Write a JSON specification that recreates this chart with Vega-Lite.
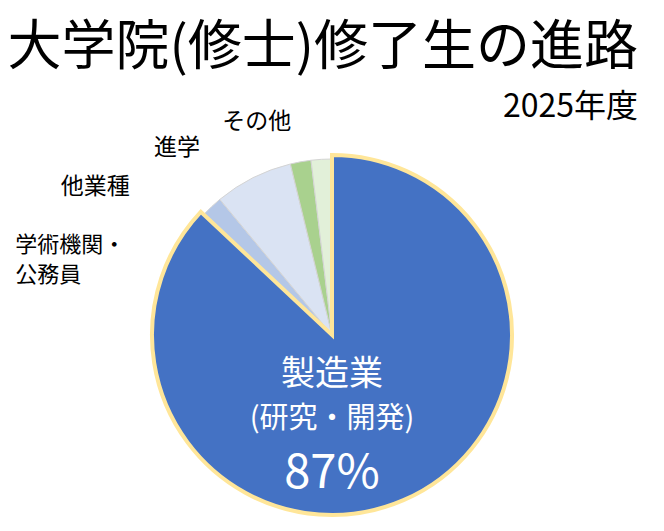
{
  "$schema": "https://vega.github.io/schema/vega-lite/v6.json",
  "width": 664,
  "height": 392,
  "autosize": "none",
  "padding": {"top": 139, "left": 0, "right": 0, "bottom": 0},
  "background": "white",
  "title": {
    "text": "大学院(修士)修了生の進路",
    "subtitle": "2025年度",
    "anchor": "end",
    "dx": -26,
    "offset": -12,
    "font": "Noto Sans CJK JP",
    "fontSize": 54,
    "fontWeight": "normal",
    "color": "black",
    "subtitleFont": "Noto Sans CJK JP",
    "subtitleFontSize": 32,
    "subtitleColor": "black",
    "subtitlePadding": 16
  },
  "data": {
    "values": [
      {"rank": 1, "name": "製造業", "detail": "(研究・開発)", "share": 0.87},
      {"rank": 2, "name": "学術機関・\n公務員", "detail": "", "share": 0.02},
      {"rank": 3, "name": "他業種", "detail": "", "share": 0.072},
      {"rank": 4, "name": "進学", "detail": "", "share": 0.019},
      {"rank": 5, "name": "その他", "detail": "", "share": 0.019}
    ]
  },
  "layer": [
    {
      "mark": {"type": "arc", "radius": 176, "stroke": "#d4d4d4", "strokeWidth": 1},
      "encoding": {
        "theta": {"field": "share", "type": "quantitative", "stack": true},
        "order": {"field": "rank"},
        "color": {
          "field": "name",
          "type": "nominal",
          "scale": {
            "domain": ["製造業", "学術機関・\n公務員", "他業種", "進学", "その他"],
            "range": ["#4472c4", "#b4c7e7", "#dae3f3", "#a9d18e", "#e2f0d9"]
          },
          "legend": null
        },
        "opacity": {"condition": {"test": "datum.rank == 1", "value": 0}, "value": 1}
      }
    },
    {
      "mark": {"type": "arc", "radius": 180, "stroke": "#ffe699", "strokeWidth": 4, "strokeJoin": "miter"},
      "encoding": {
        "theta": {"field": "share", "type": "quantitative", "stack": true},
        "order": {"field": "rank"},
        "color": {
          "field": "name",
          "type": "nominal",
          "scale": {
            "domain": ["製造業", "学術機関・\n公務員", "他業種", "進学", "その他"],
            "range": ["#4472c4", "#b4c7e7", "#dae3f3", "#a9d18e", "#e2f0d9"]
          },
          "legend": null
        },
        "opacity": {"condition": {"test": "datum.rank == 1", "value": 1}, "value": 0}
      }
    },
    {
      "mark": {"type": "text", "font": "Noto Sans CJK JP", "fontSize": 34, "color": "white", "baseline": "middle", "dy": 40},
      "encoding": {
        "text": {"condition": {"test": "datum.rank == 1", "field": "name"}, "value": ""}
      }
    },
    {
      "mark": {"type": "text", "font": "Noto Sans CJK JP", "fontSize": 29, "color": "white", "baseline": "middle", "dy": 84},
      "encoding": {
        "text": {"condition": {"test": "datum.rank == 1", "field": "detail"}, "value": ""}
      }
    },
    {
      "mark": {"type": "text", "font": "Noto Sans CJK JP", "fontSize": 47, "color": "white", "baseline": "middle", "dy": 139},
      "encoding": {
        "text": {"condition": {"test": "datum.rank == 1", "field": "share", "type": "quantitative", "format": ".0%"}, "value": ""}
      }
    },
    {
      "mark": {"type": "text", "radius": 140, "font": "Noto Sans CJK JP", "fontSize": 22, "color": "black", "baseline": "middle", "align": "left", "lineBreak": "\n", "lineHeight": 30, "dx": -221, "dy": 12},
      "encoding": {
        "theta": {"field": "share", "type": "quantitative", "stack": true},
        "order": {"field": "rank"},
        "detail": {"field": "name"},
        "text": {"condition": {"test": "datum.rank == 2", "field": "name"}, "value": ""}
      }
    },
    {
      "mark": {"type": "text", "radius": 140, "font": "Noto Sans CJK JP", "fontSize": 23, "color": "black", "baseline": "middle", "dx": -174, "dy": -23},
      "encoding": {
        "theta": {"field": "share", "type": "quantitative", "stack": true},
        "order": {"field": "rank"},
        "detail": {"field": "name"},
        "text": {"condition": {"test": "datum.rank == 3", "field": "name"}, "value": ""}
      }
    },
    {
      "mark": {"type": "text", "radius": 140, "font": "Noto Sans CJK JP", "fontSize": 23, "color": "black", "baseline": "middle", "dx": -130, "dy": -49},
      "encoding": {
        "theta": {"field": "share", "type": "quantitative", "stack": true},
        "order": {"field": "rank"},
        "detail": {"field": "name"},
        "text": {"condition": {"test": "datum.rank == 4", "field": "name"}, "value": ""}
      }
    },
    {
      "mark": {"type": "text", "radius": 140, "font": "Noto Sans CJK JP", "fontSize": 23, "color": "black", "baseline": "middle", "dx": -67, "dy": -73},
      "encoding": {
        "theta": {"field": "share", "type": "quantitative", "stack": true},
        "order": {"field": "rank"},
        "detail": {"field": "name"},
        "text": {"condition": {"test": "datum.rank == 5", "field": "name"}, "value": ""}
      }
    }
  ],
  "config": {"view": {"stroke": null}}
}
